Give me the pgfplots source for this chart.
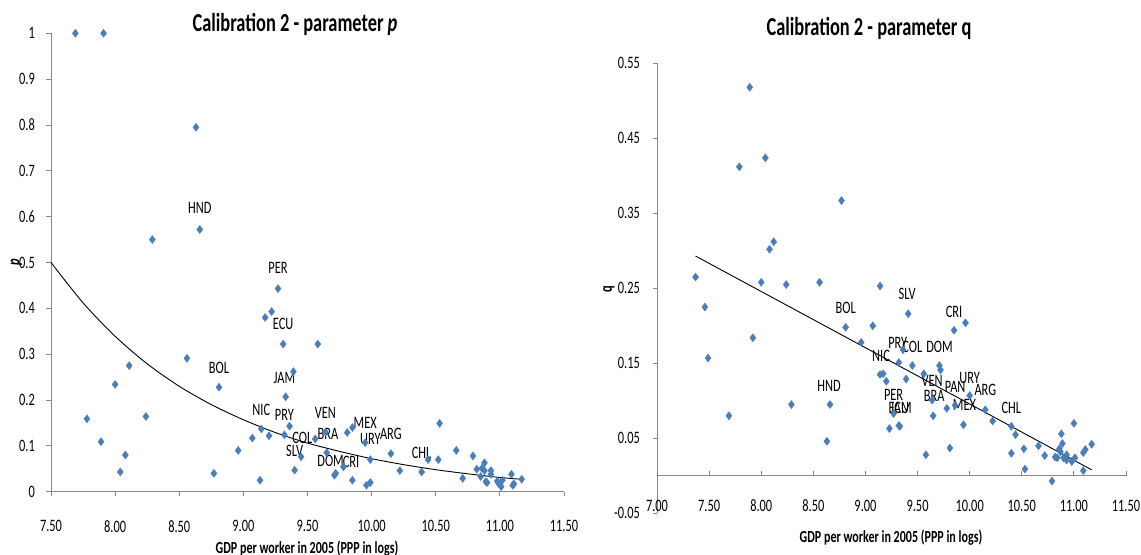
\documentclass[border=0pt]{standalone}
\usepackage{fontspec}
\setmainfont{Carlito}[FakeStretch=0.71]
\usepackage{pgfplots}
\pgfplotsset{compat=1.18}
\definecolor{mk}{HTML}{4A7EBB}
\definecolor{axgray}{HTML}{878787}
\pgfplotsset{
  mystyle/.style={
    scale only axis, anchor=south west, clip=false,
    axis x line*=bottom, axis y line*=left,
    axis line style={axgray, line width=0.8bp},
    tick style={axgray, line width=0.8bp},
    tick align=outside, major tick length=4.5bp,
    ticklabel style={font=\fontsize{17.5}{17.5}\selectfont, text=black},
  },
  dots/.style={only marks, mark=diamond*, mark size=4bp, color=mk, mark options={draw=mk, fill=mk}},
  trend/.style={black, line width=0.9bp, no marks, smooth},
}
\tikzset{lab/.style={font=\fontsize{17.5}{17.5}\selectfont, inner sep=0pt}}
\begin{document}
\begin{tikzpicture}
\useasboundingbox (0,0) rectangle (1141bp,555bp);
% ---------------- left panel ----------------
\begin{axis}[mystyle, at={(51bp,63.3bp)}, width=513bp, height=458.4bp,
  xmin=7.5, xmax=11.5, ymin=0, ymax=1,
  xtick={7.5,8,8.5,9,9.5,10,10.5,11,11.5},
  xticklabels={7.50,8.00,8.50,9.00,9.50,10.00,10.50,11.00,11.50},
  ytick={0,0.1,0.2,0.3,0.4,0.5,0.6,0.7,0.8,0.9,1},
  yticklabels={0,0.1,0.2,0.3,0.4,0.5,0.6,0.7,0.8,0.9,1},
  xticklabel style={anchor=center, yshift=-30bp},
  yticklabel style={anchor=east, inner sep=0pt, xshift=-11.5bp},
]
\addplot[dots] coordinates {
(7.69,1.000) (7.91,1.000) (7.78,0.159) (7.89,0.109) (8.00,0.234) (8.04,0.043)
(8.08,0.080) (8.11,0.275) (8.24,0.164) (8.29,0.550) (8.56,0.291) (8.63,0.795)
(8.66,0.572) (8.77,0.040) (8.81,0.228) (8.96,0.090) (9.07,0.117) (9.13,0.025)
(9.14,0.137) (9.17,0.380) (9.20,0.122) (9.22,0.393) (9.27,0.443) (9.31,0.322)
(9.32,0.124) (9.33,0.207) (9.36,0.143) (9.39,0.262) (9.40,0.047) (9.45,0.076)
(9.56,0.115) (9.58,0.322) (9.64,0.130) (9.65,0.085) (9.71,0.036) (9.72,0.040)
(9.78,0.054) (9.81,0.129) (9.85,0.025) (9.85,0.140) (9.95,0.107) (9.96,0.014)
(9.99,0.020) (9.99,0.070) (10.15,0.083) (10.22,0.046) (10.39,0.043) (10.44,0.070)
(10.52,0.070) (10.53,0.149) (10.66,0.090) (10.71,0.029) (10.79,0.078) (10.82,0.049)
(10.85,0.033) (10.86,0.051) (10.88,0.063) (10.88,0.046) (10.89,0.022) (10.90,0.020)
(10.93,0.046) (10.93,0.038) (10.98,0.023) (10.99,0.018) (11.01,0.011) (11.02,0.025)
(11.09,0.038) (11.10,0.014) (11.11,0.017) (11.17,0.027)
};
\addplot[trend] coordinates {
(7.5,0.500) (7.75,0.412) (8.0,0.339) (8.25,0.279) (8.5,0.230) (8.75,0.190)
(9.0,0.157) (9.25,0.129) (9.5,0.106) (9.75,0.088) (10.0,0.072) (10.25,0.059)
(10.5,0.048) (10.75,0.039) (11.0,0.031) (11.17,0.027)
};
\node[lab] at (axis cs:8.66,0.618) {HND};
\node[lab] at (axis cs:9.27,0.489) {PER};
\node[lab] at (axis cs:9.31,0.366) {ECU};
\node[lab] at (axis cs:8.81,0.270) {BOL};
\node[lab] at (axis cs:9.32,0.249) {JAM};
\node[lab] at (axis cs:9.14,0.178) {NIC};
\node[lab] at (axis cs:9.32,0.167) {PRY};
\node[lab] at (axis cs:9.64,0.172) {VEN};
\node[lab] at (axis cs:9.95,0.149) {MEX};
\node[lab] at (axis cs:9.66,0.127) {BRA};
\node[lab] at (axis cs:9.46,0.118) {COL};
\node[lab] at (axis cs:9.99,0.114) {URY};
\node[lab] at (axis cs:10.15,0.125) {ARG};
\node[lab] at (axis cs:9.40,0.089) {SLV};
\node[lab] at (axis cs:9.68,0.067) {DOM};
\node[lab] at (axis cs:9.84,0.065) {CRI};
\node[lab] at (axis cs:10.39,0.085) {CHL};
\end{axis}
% ---------------- right panel ----------------
\begin{axis}[scale only axis, anchor=south west, clip=false,
  at={(657bp,41.7bp)}, width=469bp, height=450bp,
  xmin=7, xmax=11.5, ymin=-0.05, ymax=0.55,
  axis x line=none, axis y line*=left,
  axis line style={axgray, line width=0.8bp},
  tick style={axgray, line width=0.8bp},
  tick align=outside, major tick length=4.5bp,
  ticklabel style={font=\fontsize{17.5}{17.5}\selectfont, text=black},
  ytick={-0.05,0.05,0.15,0.25,0.35,0.45,0.55},
  yticklabels={-0.05,0.05,0.15,0.25,0.35,0.45,0.55},
  yticklabel style={anchor=east, inner sep=0pt, xshift=-12.5bp},
  unbounded coords=jump,
]
% the horizontal axis line at q = 0, with its tick marks
\addplot[color=axgray, line width=1bp, no marks] coordinates {(7,0) (11.5,0)};
\addplot[color=axgray, line width=1bp, no marks] coordinates {
(7.5,0) (7.5,0.0067) (7.5,nan) (8,0) (8,0.0067) (8,nan) (8.5,0) (8.5,0.0067) (8.5,nan)
(9,0) (9,0.0067) (9,nan) (9.5,0) (9.5,0.0067) (9.5,nan) (10,0) (10,0.0067) (10,nan)
(10.5,0) (10.5,0.0067) (10.5,nan) (11,0) (11,0.0067) (11,nan) (11.5,0) (11.5,0.0067)
};
\addplot[dots] coordinates {
(7.37,0.265) (7.46,0.225) (7.49,0.157) (7.69,0.080) (7.79,0.412) (7.89,0.518)
(7.92,0.184) (8.00,0.258) (8.04,0.424) (8.08,0.302) (8.12,0.312) (8.24,0.255)
(8.29,0.095) (8.56,0.258) (8.63,0.046) (8.66,0.095) (8.77,0.367) (8.81,0.198)
(8.96,0.178) (9.07,0.200) (9.14,0.253) (9.14,0.135) (9.17,0.136) (9.20,0.126)
(9.23,0.063) (9.27,0.083) (9.32,0.151) (9.32,0.067) (9.33,0.066) (9.36,0.168)
(9.39,0.129) (9.41,0.216) (9.45,0.147) (9.56,0.136) (9.58,0.028) (9.64,0.101)
(9.65,0.080) (9.71,0.147) (9.72,0.141) (9.78,0.090) (9.81,0.037) (9.85,0.194)
(9.86,0.094) (9.94,0.068) (9.96,0.204) (10.00,0.107) (10.15,0.088) (10.22,0.073)
(10.40,0.066) (10.40,0.030) (10.44,0.055) (10.52,0.036) (10.53,0.009) (10.66,0.040)
(10.72,0.027) (10.79,-0.007) (10.82,0.025) (10.84,0.024) (10.86,0.036) (10.87,0.032)
(10.88,0.056) (10.89,0.043) (10.90,0.024) (10.93,0.021) (10.93,0.028) (10.98,0.019)
(11.00,0.070) (11.01,0.024) (11.09,0.031) (11.09,0.007) (11.11,0.035) (11.17,0.042)
};
\addplot[black, line width=0.9bp, no marks] coordinates {(7.37,0.293) (11.17,0.008)};
\node[lab] at (axis cs:8.65,0.120) {HND};
\node[lab] at (axis cs:8.81,0.224) {BOL};
\node[lab] at (axis cs:9.40,0.242) {SLV};
\node[lab] at (axis cs:9.85,0.219) {CRI};
\node[lab] at (axis cs:9.31,0.177) {PRY};
\node[lab] at (axis cs:9.45,0.172) {COL};
\node[lab] at (axis cs:9.71,0.172) {DOM};
\node[lab] at (axis cs:9.15,0.160) {NIC};
\node[lab] at (axis cs:9.64,0.127) {VEN};
\node[lab] at (axis cs:9.66,0.107) {BRA};
\node[lab] at (axis cs:9.27,0.108) {PER};
\node[lab] at (axis cs:9.32,0.091) {ECU};
\node[lab] at (axis cs:9.34,0.091) {JAM};
\node[lab] at (axis cs:9.86,0.118) {PAN};
\node[lab] at (axis cs:10.00,0.131) {URY};
\node[lab] at (axis cs:10.15,0.114) {ARG};
\node[lab] at (axis cs:9.95,0.095) {MEX};
\node[lab] at (axis cs:10.40,0.091) {CHL};
% x tick labels of the right panel, set low as in the source
\node[lab] at (axis cs:7.0,-0.0395) {7.00};
\node[lab] at (axis cs:7.5,-0.0395) {7.50};
\node[lab] at (axis cs:8.0,-0.0395) {8.00};
\node[lab] at (axis cs:8.5,-0.0395) {8.50};
\node[lab] at (axis cs:9.0,-0.0395) {9.00};
\node[lab] at (axis cs:9.5,-0.0395) {9.50};
\node[lab] at (axis cs:10.0,-0.0395) {10.00};
\node[lab] at (axis cs:10.5,-0.0395) {10.50};
\node[lab] at (axis cs:11.0,-0.0395) {11.00};
\node[lab] at (axis cs:11.5,-0.0395) {11.50};
\end{axis}
% horizontal axis line of the right panel (q = 0), drawn again outside the axis
\draw[axgray, line width=1bp] (657bp,79.2bp) -- (1126bp,79.2bp);
% titles and axis labels
\node[anchor=base, font=\bfseries\fontsize{26}{26}\selectfont] at (295bp,523bp) {Calibration 2 - parameter \textit{p}};
\node[anchor=base, font=\bfseries\fontsize{26}{26}\selectfont] at (869bp,519bp) {Calibration 2 - parameter q};
\node[anchor=base, font=\bfseries\fontsize{17}{17}\selectfont] at (307bp,2bp) {GDP per worker in 2005 (PPP in logs)};
\node[anchor=base, font=\bfseries\fontsize{17}{17}\selectfont] at (891bp,13bp) {GDP per worker in 2005 (PPP in logs)};
\node[rotate=90, font=\bfseries\itshape\fontsize{17.5}{17.5}\selectfont] at (16.5bp,293bp) {p};
\node[rotate=90, font=\bfseries\fontsize{17.5}{17.5}\selectfont] at (609bp,266bp) {q};
\end{tikzpicture}
\end{document}
